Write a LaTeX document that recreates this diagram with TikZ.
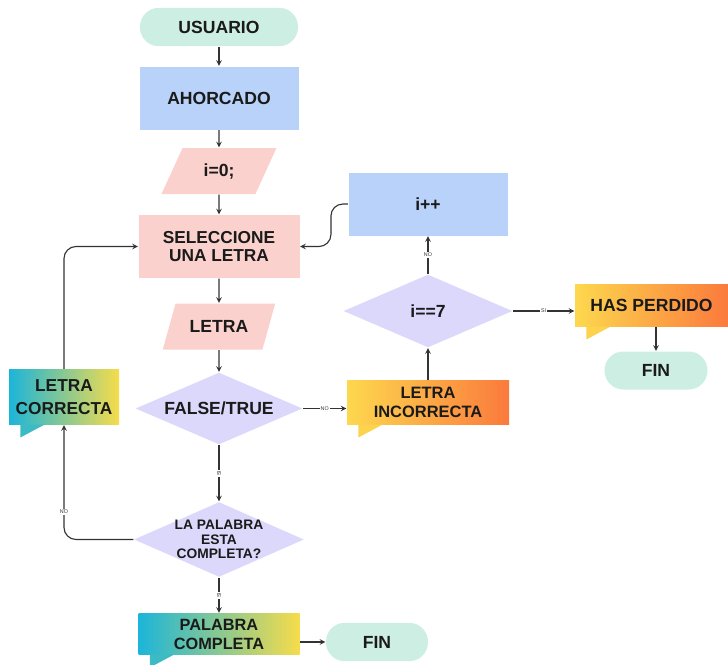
\documentclass[tikz,border=0pt]{standalone}
\usepackage{fontspec}
\setmainfont{Liberation Sans}
\usetikzlibrary{shapes.geometric, calc}

\definecolor{mint}{HTML}{CDEEE2}
\definecolor{sky}{HTML}{B8D2FA}
\definecolor{rose}{HTML}{FBD1CD}
\definecolor{lav}{HTML}{DCD8FB}
\definecolor{cyanA}{HTML}{1CB5D9}
\definecolor{yelB}{HTML}{F6DC4B}
\definecolor{yelA}{HTML}{FDD84E}
\definecolor{orgB}{HTML}{FB7A3C}
\definecolor{ln}{HTML}{333333}
\definecolor{txt}{HTML}{1A1A1A}

\begin{document}
\begin{tikzpicture}[->, >=stealth, line width=0.8pt, draw=ln, node distance=1.8cm,
  font=\bfseries\fontsize{12.5}{14}\selectfont, text=txt]
\tikzstyle{term}=[rectangle, fill=mint, rounded corners=0.47cm, minimum width=2.55cm, minimum height=0.96cm]
\tikzstyle{proc}=[rectangle, fill=sky, minimum width=3.975cm, minimum height=1.575cm, align=center]
\tikzstyle{io}=[trapezium, fill=rose, trapezium left angle=65, trapezium right angle=115,
  trapezium stretches=true, minimum width=2.875cm, minimum height=1.15cm]
\tikzstyle{dec}=[diamond, fill=lav, aspect=2.3, inner sep=0pt, align=center]
\tikzstyle{bubble}=[rectangle, inner sep=2pt, align=center]
\tikzstyle{lbl}=[fill=white, inner sep=0.6pt, text=ln, font=\fontsize{3.8}{4}\selectfont]
\useasboundingbox (0,0) rectangle (18.2,-16.625);

% columna principal
\node[term, minimum width=3.95cm]        (usr)   at (5.475,-0.675) {USUARIO};
\node[proc, node distance=1.775cm]       (ahor)  [below of=usr]    {AHORCADO};
\node[io, node distance=1.825cm]         (izero) [below of=ahor]   {i=0;};
\node[proc, fill=rose, minimum width=4.025cm, font=\bfseries\fontsize{12.3}{13}\selectfont,
      node distance=1.8875cm]            (sel)   [below of=izero]  {SELECCIONE\\UNA LETRA};
\node[io, minimum width=2.825cm, node distance=2.0cm] (letra) [below of=sel] {LETRA};
\node[dec, minimum width=4.175cm, minimum height=1.8cm, node distance=2.05cm]
                                         (ft)    [below of=letra]  {FALSE/TRUE};
\node[dec, minimum width=4.25cm, minimum height=1.875cm, inner xsep=-0.5cm, inner ysep=-0.2cm,
      font=\bfseries\fontsize{9.8}{10.2}\selectfont, node distance=3.275cm]
                                         (lp)    [below of=ft]     {LA PALABRA\\ESTA\\COMPLETA?};
\node[bubble, left color=cyanA, right color=yelB, minimum width=4.025cm, minimum height=1.025cm,
      font=\bfseries\fontsize{11.6}{13.5}\selectfont, node distance=2.3625cm]
                                         (pc)    [below of=lp]     {PALABRA\\COMPLETA};
\node[term, node distance=3.95cm, yshift=-0.2cm] (fin2) [right of=pc] {FIN};

% rama izquierda
\node[bubble, left color=cyanA, right color=yelB, minimum width=2.75cm, minimum height=1.375cm,
      font=\bfseries\fontsize{12.3}{16}\selectfont, node distance=3.875cm, yshift=0.2875cm]
                                         (lc)    [left of=ft]      {LETRA\\CORRECTA};

% rama derecha
\node[bubble, left color=yelA, right color=orgB, minimum width=4.05cm, minimum height=1.1cm,
      font=\bfseries\fontsize{11.7}{13.5}\selectfont, node distance=5.225cm, yshift=0.15cm]
                                         (li)    [right of=ft]     {LETRA\\INCORRECTA};
\node[dec, minimum width=4.225cm, minimum height=1.825cm, node distance=2.2875cm]
                                         (i7)    [above of=li]     {i==7};
\node[proc, node distance=2.675cm]       (ipp)   [above of=i7]     {i++};
\node[bubble, left color=yelA, right color=orgB, minimum width=3.825cm, minimum height=1.05cm,
      node distance=5.5875cm, yshift=0.1375cm] (hp) [right of=i7] {HAS PERDIDO};
\node[term, minimum width=2.575cm, minimum height=0.95cm, node distance=1.625cm, xshift=0.1125cm]
                                         (fin1)  [below of=hp]     {FIN};

% colas de los globos
\foreach \n/\c in {lc/cyanA!85!yelB, pc/cyanA!85!yelB, li/yelA!95!orgB, hp/yelA!95!orgB}
  \fill[\c] ($(\n.south west)+(0.3,0.01)$) -- ++(0.6,0) -- ++(-0.6,-0.32) -- cycle;

\path
(usr)   edge (ahor)
(ahor)  edge (izero)
(izero) edge (sel)
(sel)   edge (letra)
(letra) edge (ft)
(ft)    edge node[lbl, rotate=90]{SI} (lp)
(lp)    edge node[lbl, rotate=90]{SI} (pc)
(ft.east) edge node[lbl]{NO} (ft.east -| li.west)
(li)    edge (i7)
(i7)    edge node[lbl]{NO} (ipp)
(i7.east) edge node[lbl]{SI} (i7.east -| hp.west)
(hp.south -| fin1.north) edge (fin1.north)
(fin2.west -| pc.east) edge (fin2.west);

\draw[ln, rounded corners=0.3cm] (lp.west) -| node[lbl, pos=0.62]{NO} (lc.south);
\draw[ln, rounded corners=0.3cm] (lc.north) |- (sel.west);
\draw[ln, rounded corners=0.3cm] (ipp.west) -- ++(-0.425,0) |- (sel.east);
\end{tikzpicture}
\end{document}
